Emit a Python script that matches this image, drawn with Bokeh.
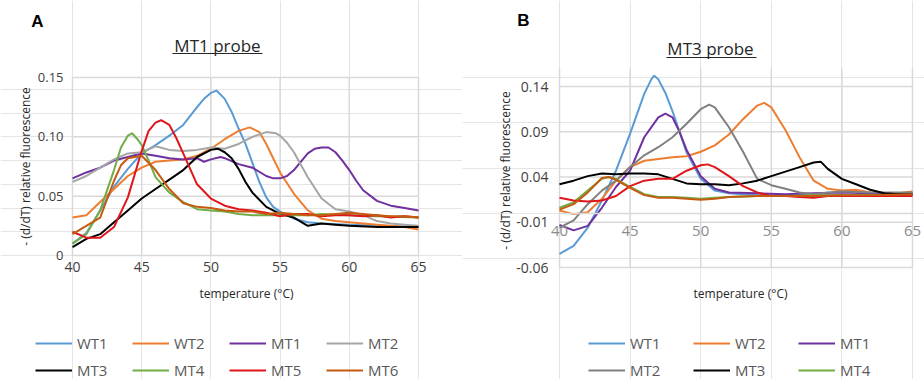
from bokeh.plotting import figure
from bokeh.models import (Range1d, FixedTicker, LinearAxis, Legend, LegendItem, Label,
                          BoxAnnotation)
from bokeh.layouts import row
from bokeh.embed import file_html
from bokeh.resources import INLINE

# ---------------- data: panel A (MT1 probe) ----------------
A_WT1_T = [40, 41, 42, 43, 44, 45, 46, 47, 48, 49, 49.5, 50, 50.4, 51, 51.5, 52, 52.5, 53, 53.5, 54, 54.5, 55, 56, 57, 58, 60, 62, 65]
A_WT1_V = [.010, .019, .038, .058, .073, .086, .093, .101, .110, .125, .132, .137, .139, .132, .121, .107, .094, .078, .062, .049, .041, .037, .031, .028, .027, .026, .025, .024]

A_WT2_T = [40, 41, 42, 43, 44, 45, 46, 47, 48, 49, 50, 51, 52, 52.8, 53.5, 54, 54.5, 55, 56, 57, 58, 59, 60, 61, 62, 63, 64, 65]
A_WT2_V = [.032, .034, .045, .056, .067, .074, .079, .080, .081, .084, .090, .098, .105, .108, .104, .094, .082, .070, .052, .038, .031, .029, .028, .027, .026, .025, .024, .022]

A_MT1_T = [40, 41, 42, 43, 44, 45, 46, 47, 48, 49, 49.5, 50, 50.7, 51, 52, 53, 54, 54.5, 55, 55.5, 56, 57, 57.5, 58, 58.5, 59, 59.5, 60, 60.5, 61, 62, 63, 64, 65]
A_MT1_V = [.065, .070, .074, .080, .083, .086, .084, .082, .081, .082, .079, .081, .083, .082, .077, .074, .067, .065, .065, .067, .072, .086, .090, .091, .091, .087, .080, .072, .063, .055, .046, .042, .040, .038]

A_MT2_T = [40, 41, 42, 43, 44, 45, 46, 47, 48, 49, 50, 51, 52, 53, 54, 54.7, 55, 55.5, 56, 57, 58, 59, 60, 61, 62, 63, 64, 65]
A_MT2_V = [.062, .067, .074, .081, .086, .087, .092, .089, .088, .089, .091, .090, .094, .100, .104, .103, .101, .095, .087, .066, .048, .039, .037, .034, .029, .027, .026, .025]

A_MT3_T = [40, 41, 42, 43, 44, 45, 46, 47, 48, 49, 50, 50.5, 51, 51.5, 52, 52.5, 53, 54, 55, 56, 57, 58, 59, 60, 62, 65]
A_MT3_V = [.007, .014, .018, .028, .038, .048, .056, .064, .072, .083, .089, .090, .087, .082, .073, .062, .053, .041, .035, .032, .025, .027, .026, .025, .024, .024]

A_MT4_T = [40, 41, 42, 43, 43.5, 44, 44.3, 44.7, 45, 45.5, 46, 47, 48, 49, 50, 51, 52, 53, 55, 57, 58, 60, 62, 65]
A_MT4_V = [.010, .018, .038, .072, .091, .101, .103, .098, .093, .080, .066, .053, .045, .039, .038, .037, .035, .034, .034, .034, .035, .034, .033, .032]

A_MT5_T = [40, 41, 42, 43, 44, 45, 45.5, 46, 46.4, 47, 47.5, 48, 49, 50, 51, 52, 53, 54, 55, 56, 57, 58, 59, 60, 61, 62, 63, 64, 65]
A_MT5_V = [.020, .015, .015, .024, .049, .088, .105, .112, .114, .110, .099, .086, .060, .048, .042, .039, .038, .036, .033, .035, .035, .033, .034, .034, .033, .034, .032, .033, .032]

A_MT6_T = [40, 41, 42, 43, 43.5, 44, 45, 46, 47, 48, 49, 50, 51, 52, 53, 54, 55, 56, 57, 58, 59, 60, 61, 62, 63, 64, 65]
A_MT6_V = [.018, .025, .032, .063, .076, .082, .084, .072, .056, .044, .041, .040, .038, .037, .037, .035, .036, .035, .034, .034, .035, .036, .035, .034, .033, .033, .032]

# ---------------- data: panel B (MT3 probe) ----------------
B_WT1_T = [40, 41, 42, 43, 44, 45, 46, 46.5, 46.7, 47, 47.5, 48, 49, 50, 51, 52, 54, 56, 58, 60, 62, 65]
B_WT1_V = [-.045, -.036, -.016, .014, .047, .088, .132, .148, .152, .148, .133, .113, .067, .038, .025, .022, .020, .020, .020, .020, .020, .020]

B_WT2_T = [40, 41, 42, 43, 44, 45, 46, 47, 48, 49, 50, 51, 52, 53, 54, 54.5, 55, 56, 57, 58, 59, 60, 61, 62, 63, 64, 65]
B_WT2_V = [.003, -.001, .001, .016, .036, .051, .058, .060, .062, .063, .068, .075, .087, .104, .119, .122, .117, .092, .062, .036, .027, .025, .026, .023, .022, .022, .024]

B_MT1_T = [40, 41, 42, 43, 44, 45, 46, 47, 47.5, 48, 48.5, 49, 50, 51, 52, 54, 56, 58, 60, 62, 65]
B_MT1_V = [-.013, -.019, -.014, .006, .029, .047, .084, .106, .110, .106, .090, .070, .041, .027, .023, .022, .021, .022, .023, .022, .022]

B_MT2_T = [40, 41, 42, 43, 44, 45, 46, 47, 48, 49, 50, 50.6, 51, 51.5, 52, 53, 54, 55, 56, 57, 58, 59, 60, 62, 65]
B_MT2_V = [-.016, -.008, .010, .025, .036, .051, .064, .073, .084, .099, .115, .120, .117, .106, .095, .068, .038, .031, .027, .023, .021, .023, .024, .023, .023]

B_MT3_T = [40, 41, 42, 43, 44, 45, 46, 47, 48, 49, 50, 51, 52, 53, 54, 55, 56, 57, 58, 58.5, 59, 60, 61, 62, 63, 64, 65]
B_MT3_V = [.032, .036, .041, .044, .043, .044, .044, .043, .038, .033, .032, .032, .031, .033, .036, .041, .046, .051, .056, .057, .049, .038, .032, .026, .022, .021, .021]

B_MT4_T = [40, 41, 42, 43, 43.5, 44, 45, 46, 47, 48, 49, 50, 51, 52, 54, 56, 58, 60, 62, 65]
B_MT4_V = [.006, .012, .025, .038, .040, .038, .029, .021, .018, .018, .017, .016, .017, .018, .019, .019, .020, .020, .020, .020]

B_MT5_T = [40, 41, 42, 43, 44, 45, 46, 47, 48, 49, 50, 50.5, 51, 52, 53, 54, 55, 56, 57, 58, 59, 60, 62, 65]
B_MT5_V = [.017, .014, .013, .014, .019, .030, .036, .038, .038, .047, .053, .054, .051, .041, .030, .023, .019, .019, .018, .017, .019, .019, .019, .019]

B_MT6_T = [40, 41, 42, 43, 43.5, 44, 45, 46, 47, 48, 49, 50, 51, 52, 54, 56, 58, 60, 62, 65]
B_MT6_V = [.004, .010, .023, .039, .040, .037, .028, .020, .017, .017, .016, .015, .016, .018, .019, .019, .019, .020, .020, .021]

# ---------------- axes / ticks / labels ----------------
X_MIN, X_MAX = 40, 65
X_TICKS = [40, 45, 50, 55, 60, 65]
A_Y_MIN, A_Y_MAX = 0, 0.15
A_Y_TICKS = [0, 0.05, 0.10, 0.15]
A_Y_LABELS = ["0", "0.05", "0.10", "0.15"]
B_Y_MIN, B_Y_MAX = -0.06, 0.16
B_Y_TICKS = [-0.06, -0.01, 0.04, 0.09, 0.14]
B_Y_LABELS = ["-0.06", "-0.01", "0.04", "0.09", "0.14"]

A_NAMES = ["WT1", "WT2", "MT1", "MT2", "MT3", "MT4", "MT5", "MT6"]
A_COLORS = ["#5B9BD5", "#ED7D31", "#7030A0", "#A5A5A5", "#000000", "#70AD47", "#E0161B", "#C55A11"]
B_NAMES = ["WT1", "WT2", "MT1", "MT2", "MT3", "MT4", "MT5", "MT6"]
B_COLORS = ["#5B9BD5", "#ED7D31", "#7030A0", "#808080", "#000000", "#70AD47", "#E0161B", "#C55A11"]
B_LEGEND = ["WT1", "WT2", "MT1", "MT2", "MT3", "MT4"]

A_SERIES = [(A_WT1_T, A_WT1_V), (A_WT2_T, A_WT2_V), (A_MT1_T, A_MT1_V), (A_MT2_T, A_MT2_V),
            (A_MT3_T, A_MT3_V), (A_MT4_T, A_MT4_V), (A_MT5_T, A_MT5_V), (A_MT6_T, A_MT6_V)]
B_SERIES = [(B_WT1_T, B_WT1_V), (B_WT2_T, B_WT2_V), (B_MT1_T, B_MT1_V), (B_MT2_T, B_MT2_V),
            (B_MT3_T, B_MT3_V), (B_MT4_T, B_MT4_V), (B_MT5_T, B_MT5_V), (B_MT6_T, B_MT6_V)]

FONT = "Open Sans"
GRID = "#d9d9d9"
INK = "#262626"
W, H = 462, 379


def make_panel(px_left, px_right, px_top, px_bottom, ymin, ymax):
    """Figure whose frame is the whole canvas; the plot area spans the given pixels."""
    kx = (px_right - px_left) / (X_MAX - X_MIN)
    ky = (px_bottom - px_top) / (ymax - ymin)
    xr = Range1d(X_MIN - px_left / kx, X_MIN + (W - px_left) / kx)
    yr = Range1d(ymin - (H - px_bottom) / ky, ymax + px_top / ky)
    p = figure(width=W, height=H, output_backend="svg", toolbar_location=None,
               x_range=xr, y_range=yr, x_axis_location=None, y_axis_location=None,
               min_border=0, min_border_left=0, min_border_right=0,
               min_border_top=0, min_border_bottom=0)
    p.title.visible = False
    p.outline_line_color = None
    p.background_fill_color = "white"
    p.border_fill_color = "white"
    return p


def grid(p, y_ticks, ymin, ymax):
    n, m = len(X_TICKS), len(y_ticks)
    p.segment(x0=X_TICKS, y0=[ymin] * n, x1=X_TICKS, y1=[ymax] * n,
              line_color=GRID, line_width=1.5)
    p.segment(x0=[X_MIN] * m, y0=y_ticks, x1=[X_MAX] * m, y1=y_ticks,
              line_color=GRID, line_width=1.5)


def axes(p, y_ticks, y_labels, y_bounds, y_size, y_color, y_standoff,
         x_size, x_color, x_standoff, x_line):
    xa = LinearAxis(fixed_location=0, bounds=(X_MIN, X_MAX), ticker=FixedTicker(ticks=X_TICKS),
                    major_tick_out=0, major_tick_in=0, minor_tick_out=0, minor_tick_in=0,
                    major_tick_line_color=None, minor_tick_line_color=None,
                    axis_line_color=x_line, axis_line_width=1.5,
                    major_label_standoff=x_standoff, major_label_text_font=FONT,
                    major_label_text_font_size=x_size, major_label_text_color=x_color)
    p.add_layout(xa, "below")
    ya = LinearAxis(fixed_location=X_MIN, bounds=y_bounds, ticker=FixedTicker(ticks=y_ticks),
                    major_label_overrides=dict(zip(y_ticks, y_labels)),
                    major_tick_out=0, major_tick_in=0, minor_tick_out=0, minor_tick_in=0,
                    major_tick_line_color=None, minor_tick_line_color=None,
                    axis_line_color=None, major_label_standoff=y_standoff,
                    major_label_text_font=FONT, major_label_text_font_size=y_size,
                    major_label_text_color=y_color)
    p.add_layout(ya, "left")


def text(p, s, x, y, size, angle=0, bold=False, font=FONT, color=INK):
    p.add_layout(Label(x=x, y=H - y, x_units="screen", y_units="screen", text=s,
                       angle=angle, angle_units="deg", text_align="center",
                       text_baseline="middle", text_font=font, text_font_size=size,
                       text_font_style="bold" if bold else "normal", text_color=color))


def underline(p, x0, x1, y):
    p.add_layout(BoxAnnotation(left=x0, right=x1, top=H - y + 0.6, bottom=H - y - 0.6,
                               left_units="screen", right_units="screen",
                               top_units="screen", bottom_units="screen",
                               fill_color=INK, fill_alpha=1.0, line_color=None,
                               line_alpha=0))


def legend(p, items, ncols, label_width, x, y_top):
    leg = Legend(items=items, orientation="horizontal", ncols=ncols,
                 glyph_width=37, glyph_height=20, label_height=20, label_width=label_width,
                 label_standoff=5, spacing=7, padding=0, margin=0,
                 border_line_color=None, background_fill_alpha=0,
                 label_text_font=FONT, label_text_font_size="15px",
                 label_text_color="#595959")
    rows = (len(items) + ncols - 1) // ncols
    leg_h = rows * 20 + (rows - 1) * 7
    leg.location = (x, H - y_top - leg_h)
    p.add_layout(leg, "center")


# ---------------- Panel A ----------------
pa = make_panel(72, 418, 77, 255, A_Y_MIN, A_Y_MAX)
grid(pa, A_Y_TICKS, A_Y_MIN, A_Y_MAX)
a_items = []
for name, color, (t, v) in zip(A_NAMES, A_COLORS, A_SERIES):
    r = pa.line(t, v, line_color=color, line_width=2)
    a_items.append(LegendItem(label=name, renderers=[r]))
axes(pa, A_Y_TICKS, A_Y_LABELS, (A_Y_MIN, A_Y_MAX), "13px", "#404040", 9,
     "14px", "#404040", 6, None)
text(pa, "- (d/dT) relative fluorescence", 25, 166, "12px", angle=90)
text(pa, "temperature (°C)", 246, 293, "12px")
text(pa, "MT1 probe", 217, 45, "17px")
underline(pa, 172, 262, 53)
text(pa, "A", 37, 21, "17px", bold=True, font="Liberation Sans", color="#000000")
legend(pa, a_items, 4, 48, 35, 333)

# ---------------- Panel B ----------------
pb = make_panel(97, 450, 68, 267, B_Y_MIN, B_Y_MAX)
grid(pb, B_Y_TICKS, B_Y_MIN, B_Y_MAX)
b_items = []
for name, color, (t, v) in zip(B_NAMES, B_COLORS, B_SERIES):
    r = pb.line(t, v, line_color=color, line_width=2)
    if name in B_LEGEND:
        b_items.append(LegendItem(label=name, renderers=[r]))
axes(pb, B_Y_TICKS, B_Y_LABELS, (B_Y_MIN, B_Y_MAX), "14px", "#404040", 11,
     "15px", "#8c8c8c", 13, GRID)
text(pb, "- (d/dT) relative fluorescence", 43, 170, "12px", angle=90)
text(pb, "temperature (°C)", 278, 293, "12px")
text(pb, "MT3 probe", 248, 48, "17px")
underline(pb, 204, 294, 57)
text(pb, "B", 61, 20, "17px", bold=True, font="Liberation Sans", color="#000000")
legend(pb, b_items, 3, 56, 126, 333)

layout = row(pa, pb, spacing=0)
open("out.html", "w").write(file_html(layout, INLINE))
